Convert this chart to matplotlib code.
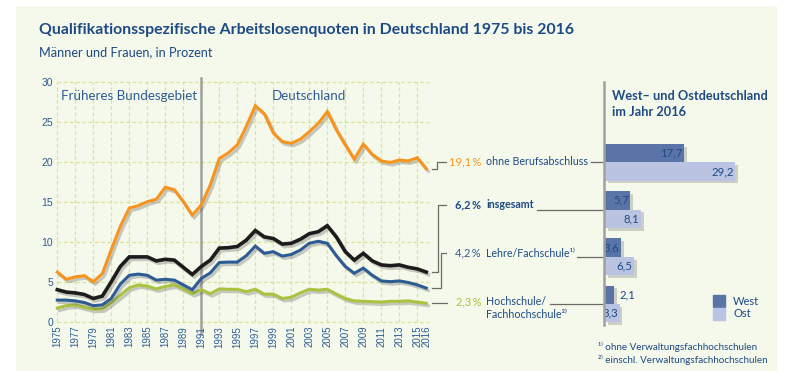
import numpy as np
import matplotlib
matplotlib.use("Agg")
import matplotlib.pyplot as plt
import matplotlib.patheffects as pe
from matplotlib.patches import Rectangle, Patch
from matplotlib.lines import Line2D

# ========================
# Daten
# ========================
years = list(range(1975, 2017))
ohne = [6.2, 5.3, 5.6, 5.75, 5.0, 6.0, 9.0, 11.9, 14.2, 14.5, 15.0, 15.3, 16.8, 16.5, 15.0, 13.3, 14.6,
        17.1, 20.4, 21.1, 22.1, 24.4, 27.0, 26.0, 23.6, 22.5, 22.3, 22.8, 23.75, 24.8, 26.25, 24.0, 22.1,
        20.3, 22.2, 20.9, 20.1, 19.9, 20.2, 20.1, 20.5, 19.1]
insg = [4.0, 3.7, 3.6, 3.4, 2.9, 3.2, 5.0, 6.9, 8.1, 8.1, 8.1, 7.6, 7.8, 7.7, 6.8, 5.9, 6.9,
        7.7, 9.2, 9.25, 9.4, 10.2, 11.4, 10.6, 10.4, 9.7, 9.8, 10.3, 11.0, 11.25, 12.0, 10.6, 8.75,
        7.7, 8.55, 7.6, 7.1, 7.0, 7.1, 6.8, 6.6, 6.2]
lehre = [2.7, 2.7, 2.6, 2.4, 2.0, 2.1, 2.9, 4.7, 5.8, 5.95, 5.8, 5.2, 5.3, 5.2, 4.6, 4.0, 5.4,
         6.1, 7.4, 7.45, 7.45, 8.25, 9.45, 8.55, 8.75, 8.2, 8.4, 8.95, 9.8, 10.05, 9.8, 8.25, 6.9,
         6.05, 6.7, 5.8, 5.1, 5.0, 5.1, 4.9, 4.6, 4.2]
hoch = [1.7, 2.0, 2.1, 1.8, 1.55, 1.6, 2.4, 3.3, 4.25, 4.6, 4.45, 4.1, 4.4, 4.6, 4.1, 3.5, 4.0,
        3.5, 4.1, 4.05, 4.05, 3.75, 4.05, 3.45, 3.45, 2.9, 3.05, 3.6, 4.05, 3.95, 4.05, 3.45, 2.9,
        2.6, 2.55, 2.5, 2.45, 2.55, 2.55, 2.6, 2.45, 2.3]

series_pct = ["19,1\u2009%", "6,2\u2009%", "4,2\u2009%", "2,3\u2009%"]
series_names = ["ohne Berufsabschluss", "insgesamt", "Lehre/Fachschule\u00b9\u207e", "Hochschule/"]
series_name2 = "Fachhochschule\u00b2\u207e"

west = [17.7, 5.7, 3.6, 2.1]
ost = [29.2, 8.1, 6.5, 3.3]

xtick_years = list(range(1975, 2016, 2)) + [2016]

# ========================
# Stil
# ========================
W, H = 788, 371
BG = "#f5f9eb"
DARK = "#1d4a85"
BLUE = "#2d5b94"
GRID = "#dbe496"
C_OHNE, C_INSG, C_LEHRE, C_HOCH = "#f7941d", "#1c1c1c", "#2d5b94", "#a9c23f"
C_WEST, C_OST = "#5b74a8", "#bac4e2"
LEAD = "#6a6a6a"
FONT = ["Lato", "DejaVu Sans"]
plt.rcParams["font.family"] = FONT


def fx(x):
    return x / W


def fy(y):
    return 1 - y / H


fig = plt.figure(figsize=(W / 100, H / 100), dpi=100)
fig.patch.set_facecolor("white")
fig.patches.append(Rectangle((fx(16), fy(371)), fx(777 - 16), (371 - 6) / H,
                             transform=fig.transFigure, facecolor=BG, edgecolor="none", zorder=-10))

fig.text(fx(39), fy(30), "Qualifikationsspezifische Arbeitslosenquoten in Deutschland 1975 bis 2016",
         fontsize=11.4, fontweight="bold", color=DARK, va="center")
fig.text(fx(39), fy(52), "Männer und Frauen, in Prozent", fontsize=9.2, color=DARK, va="center")

# ========================
# Linienchart
# ========================
x0, x1 = 57.3, 57.3 + 41.3 * 9
ax = fig.add_axes([fx(x0), fy(321.7), (x1 - x0) / W, 240 / H])
ax.set_facecolor("none")
ax.set_xlim(1975, 2016.3)
ax.set_ylim(0, 30)
for s in ax.spines.values():
    s.set_visible(False)
for v in range(0, 31, 5):
    ax.axhline(v, color=GRID, lw=0.9, ls=(0, (3, 2)), zorder=0, clip_on=False)
for yr in range(1975, 2016, 2):
    ax.axvline(yr, color=GRID, lw=0.9, ls=(0, (3, 2)), zorder=0, clip_on=False)

ax.set_yticks(range(0, 31, 5))
ax.set_yticklabels([str(v) for v in range(0, 31, 5)], fontsize=7.5, color=BLUE,
                   family=["Liberation Sans", "DejaVu Sans"])
ax.set_xticks(xtick_years)
ax.set_xticklabels([str(y) for y in xtick_years], rotation=90, fontsize=7, color=BLUE,
                   family=["Liberation Sans", "DejaVu Sans"])
ax.tick_params(length=0, pad=3)

ax.plot([1991, 1991], [-1.5, 30.5], color="#a0a0a0", lw=1.8, clip_on=False, zorder=1)

shadow = [pe.SimpleLineShadow(offset=(1.5, -1.8), shadow_color="#555555", alpha=0.3), pe.Normal()]
for vals, col, lw in [(hoch, C_HOCH, 2.2), (lehre, C_LEHRE, 2.2), (insg, C_INSG, 2.6), (ohne, C_OHNE, 2.2)]:
    ax.plot(years, vals, color=col, lw=lw, solid_joinstyle="miter", clip_on=False,
            path_effects=shadow, zorder=3)

ax.text(1975.4, 28.2, "Früheres Bundesgebiet", fontsize=9.6, color=BLUE, va="center", ha="left")
ax.text(2003, 28.2, "Deutschland", fontsize=9.6, color=BLUE, va="center", ha="center")

# ========================
# Balkenchart
# ========================
g0, g3 = 162.3, 304.0
gs = (g3 - g0) / 3
ax2_top = g0 - 0.75 * gs
ax2 = fig.add_axes([fx(605), fy(ax2_top + 4.5 * gs), 30 * 4.45 / W, 4.5 * gs / H])
ax2.set_facecolor("none")
ax2.set_xlim(0, 30)
ax2.set_ylim(3.75, -0.75)
ax2.axis("off")
pos = np.arange(len(west))
bh = 18.3 / gs
bshadow = [pe.SimplePatchShadow(offset=(2, -2), shadow_rgbFace="#555555", alpha=0.25), pe.Normal()]
bw = ax2.barh(pos - bh / 2, west, height=bh, color=C_WEST, path_effects=bshadow)
bo = ax2.barh(pos + bh / 2, ost, height=bh, color=C_OST, path_effects=bshadow)
for bars, vals in [(bw, west), (bo, ost)]:
    for b, v in zip(bars, vals):
        yc = b.get_y() + b.get_height() / 2
        lab = f"{v:.1f}".replace(".", ",")
        if v < 3:
            ax2.text(v + 1.2, yc, lab, ha="left", va="center", fontsize=8.2, color=DARK)
        else:
            ax2.text(v - 0.3, yc, lab, ha="right", va="center", fontsize=8.2, color=DARK)

fig.add_artist(Line2D([fx(604), fx(604)], [fy(82), fy(325)], color="#a0a0a0", lw=1.8,
                      transform=fig.transFigure))

fig.text(fx(612), fy(104), "West\u2013 und Ostdeutschland\nim Jahr 2016", fontsize=9.2,
         fontweight="bold", color=DARK, va="center", linespacing=1.45)

fig.legend(handles=[Patch(color=C_WEST), Patch(color=C_OST)], labels=["West", "Ost"],
           loc="upper left", bbox_to_anchor=(fx(703), fy(285)), frameon=False, fontsize=8,
           labelcolor=DARK, handlelength=1.1, handleheight=1.3, labelspacing=0.05,
           handletextpad=0.7)

fig.text(fx(598), fy(347), "\u00b9\u207e ohne Verwaltungsfachhochschulen", fontsize=7.1, color=DARK,
         va="center")
fig.text(fx(598), fy(359.5), "\u00b2\u207e einschl. Verwaltungsfachhochschulen", fontsize=7.1,
         color=DARK, va="center")

# ========================
# Beschriftungen + Führungslinien
# ========================
to_px = lambda xy: (xy[0], H - xy[1])
ends = [to_px(ax.transData.transform((2016, v[-1]))) for v in (ohne, insg, lehre, hoch)]
gy = [H - ax2.transData.transform((0, p))[1] for p in pos]
text_y = [161.7, 205, 253.3, 301.7]
knee_x = [437, 438.3, 441, None]
tail_x = [591, 537, 577, 550]
pct_cols = [C_OHNE, DARK, C_LEHRE, C_HOCH]


def seg(xs, ys):
    fig.add_artist(Line2D([fx(x) for x in xs], [fy(y) for y in ys], color=LEAD, lw=0.9,
                          transform=fig.transFigure))


for i in range(4):
    ey = ends[i][1]
    if knee_x[i] is None:
        seg([431.7, 447], [ey, ey])
    else:
        seg([431.7, knee_x[i], knee_x[i], 446], [ey, ey, text_y[i], text_y[i]])
    seg([tail_x[i], 602], [gy[i], gy[i]])
    bold = "bold" if i == 1 else "normal"
    fig.text(fx(481), fy(text_y[i]), series_pct[i], fontsize=8, color=pct_cols[i], ha="right",
             va="center", fontweight=bold)
    fig.text(fx(486), fy(text_y[i]), series_names[i], fontsize=7.7, color=DARK, ha="left",
             va="center", fontweight=bold)
fig.text(fx(486), fy(315), series_name2, fontsize=7.7, color=DARK, ha="left", va="center")

fig.savefig("out.png", dpi=100, facecolor=fig.get_facecolor())
